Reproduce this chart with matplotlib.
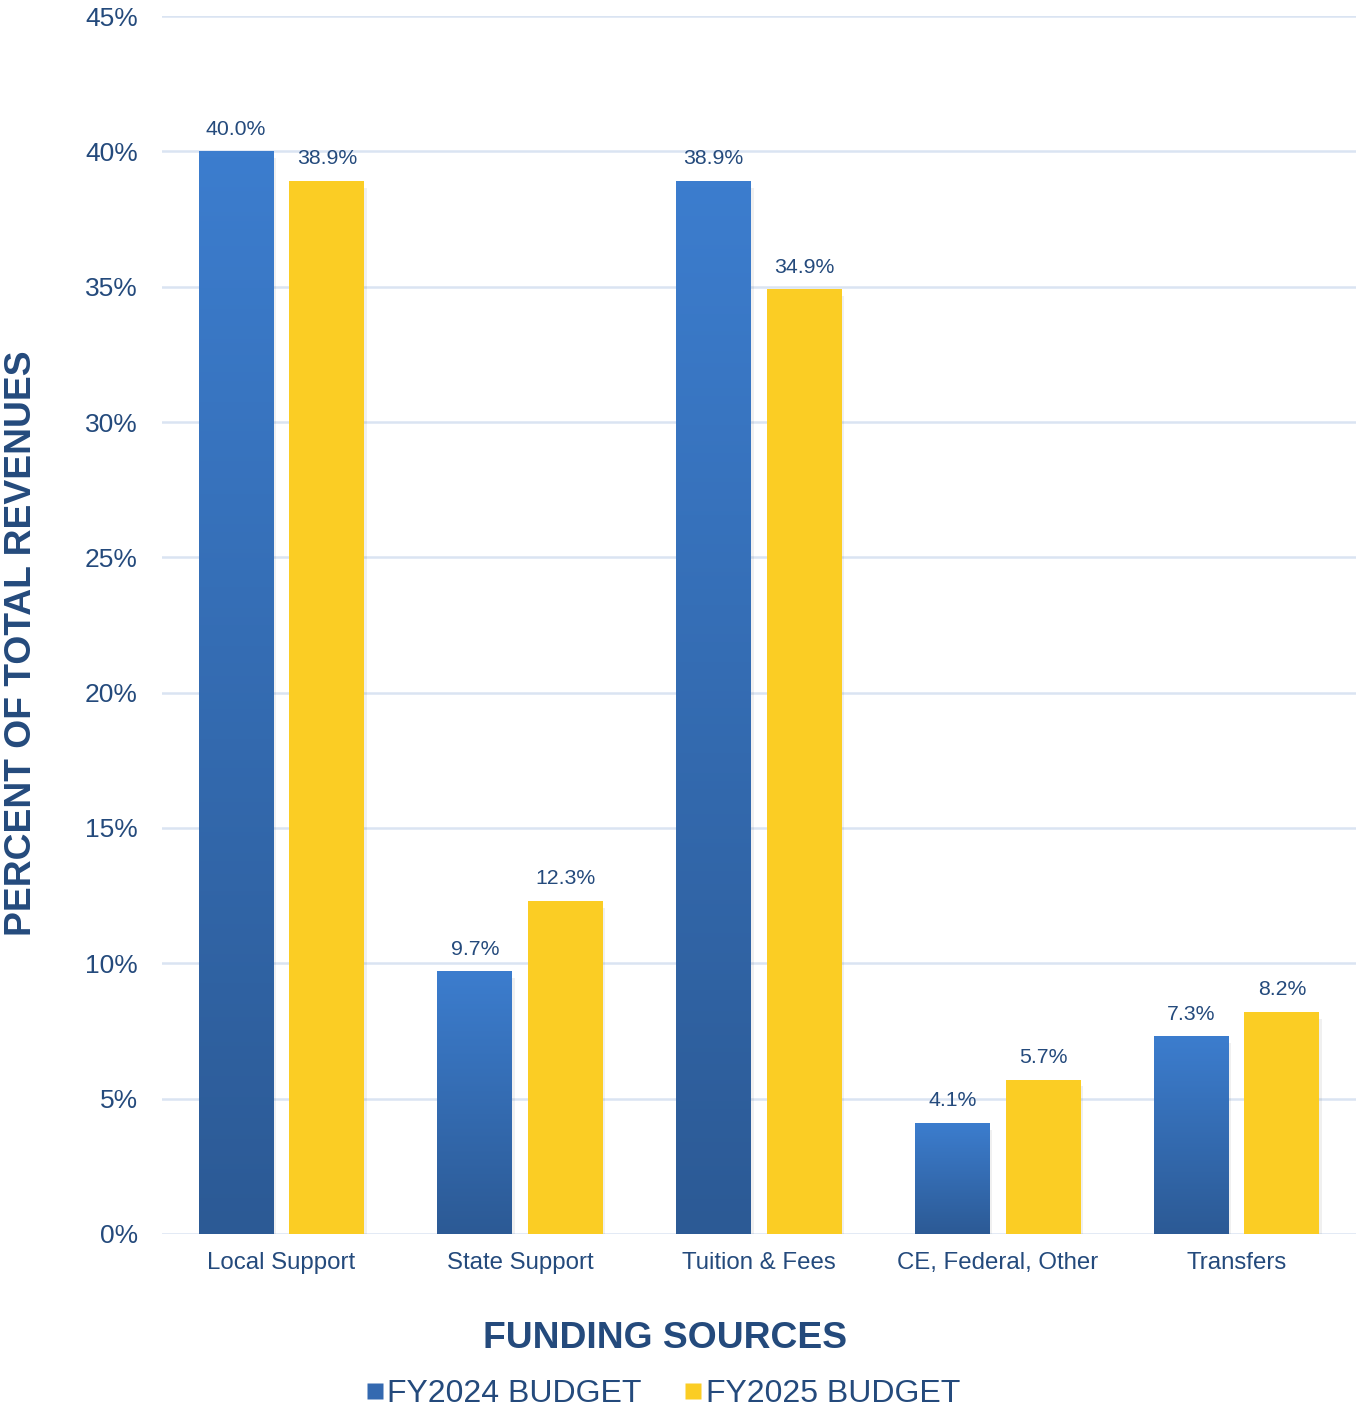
import numpy as np
import matplotlib.pyplot as plt
from matplotlib.colors import LinearSegmentedColormap
from matplotlib.lines import Line2D
from matplotlib.patches import Rectangle

plt.rcParams['font.family'] = ['Liberation Sans', 'DejaVu Sans']

# Data
categories = ['Local Support', 'State Support', 'Tuition & Fees', 'CE, Federal, Other', 'Transfers']
fy2024 = [40.0, 9.7, 38.9, 4.1, 7.3]
fy2025 = [38.9, 12.3, 34.9, 5.7, 8.2]
series_names = ['FY2024 BUDGET', 'FY2025 BUDGET']
y_ticks = [0, 5, 10, 15, 20, 25, 30, 35, 40, 45]

text_color = '#244A7C'
grid_color = '#DAE4F2'
yellow = '#FBCD24'
blue_cmap = LinearSegmentedColormap.from_list('bluegrad', ['#2C5A95', '#3C7DCE'])

fig = plt.figure(figsize=(13.56, 14.08), dpi=100)
ax = fig.add_axes([0.1195, 0.1236, 0.8805, 0.8650])

x = np.arange(len(categories))
width = 0.314
offset = 0.19

grad = np.linspace(0, 1, 256).reshape(-1, 1)

for i, (v1, v2) in enumerate(zip(fy2024, fy2025)):
    xb = x[i] - offset
    xy = x[i] + offset
    # soft shadows
    for xc, v in ((xb, v1), (xy, v2)):
        ax.add_patch(Rectangle((xc - width / 2 + 0.01, -0.25), width, v,
                               facecolor='#000000', alpha=0.06, lw=0, zorder=2))
    # blue gradient bar
    ax.imshow(grad, cmap=blue_cmap, origin='lower', aspect='auto',
              extent=[xb - width / 2, xb + width / 2, 0, v1], zorder=3,
              interpolation='bicubic')
    ax.bar(xy, v2, width=width, color=yellow, zorder=3, lw=0)
    ax.annotate(f'{v1:.1f}%', (xb, v1), xytext=(0, 16), textcoords='offset points',
                ha='center', va='center', fontsize=15.3, color=text_color)
    ax.annotate(f'{v2:.1f}%', (xy, v2), xytext=(0, 16), textcoords='offset points',
                ha='center', va='center', fontsize=15.3, color=text_color)

ax.set_xlim(-0.5, len(categories) - 0.5)
ax.set_ylim(0, 45)
ax.set_aspect('auto')

ax.set_yticks(y_ticks)
ax.set_yticklabels([f'{t}%' for t in y_ticks])
ax.set_xticks(x)
ax.set_xticklabels(categories)
ax.tick_params(axis='y', length=0, pad=17.5, labelsize=19, labelcolor=text_color)
ax.tick_params(axis='x', length=0, pad=13, labelsize=17.3, labelcolor=text_color)

ax.grid(axis='y', color=grid_color, lw=1.8, zorder=0)
ax.set_axisbelow(True)
for s in ax.spines.values():
    s.set_visible(False)

fig.text(0.0162, 1 - 643 / 1408, 'PERCENT OF TOTAL REVENUES', rotation=90,
         ha='center', va='center', fontsize=26.8, fontweight='bold', color=text_color)
fig.text(0.4908, 1 - 1338 / 1408, 'FUNDING SOURCES', ha='center', va='center',
         fontsize=26.8, fontweight='bold', color=text_color)

handles = [Line2D([], [], marker='s', linestyle='none', markersize=11.5,
                  markerfacecolor='#3469B0', markeredgecolor='none'),
           Line2D([], [], marker='s', linestyle='none', markersize=11.5,
                  markerfacecolor=yellow, markeredgecolor='none')]
leg = fig.legend(handles, series_names, loc='center', ncol=2,
                 bbox_to_anchor=(0.4886, 1 - 1394 / 1408), frameon=False,
                 fontsize=23, handlelength=0.6, handletextpad=0.1,
                 columnspacing=1.3, labelcolor=text_color)

fig.savefig('out.png', dpi=100)
